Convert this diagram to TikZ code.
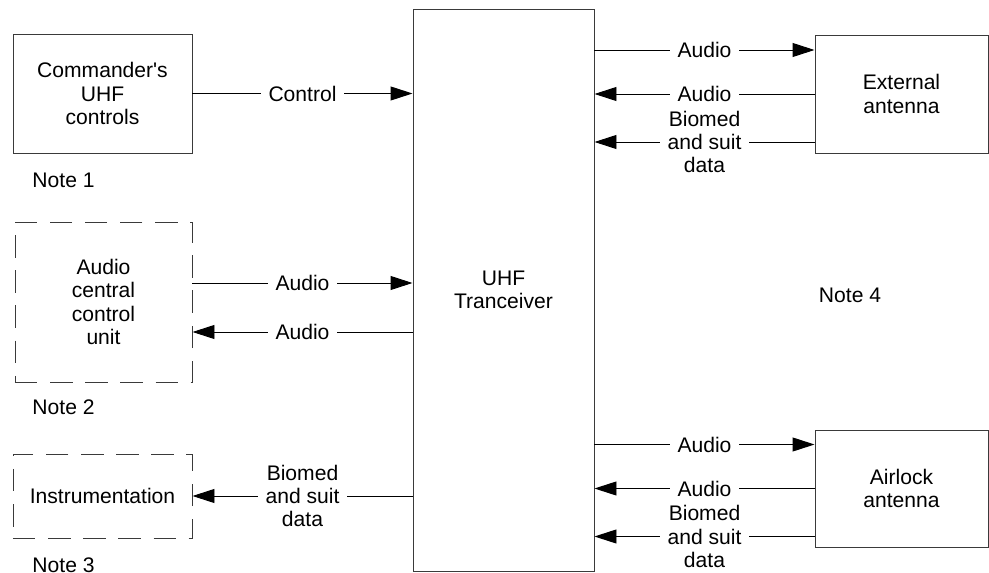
\documentclass[tikz,border=0pt]{standalone}
\usepackage{fontspec}
\setmainfont{Liberation Sans}
\usetikzlibrary{arrows.meta}
\definecolor{edge}{HTML}{3A3A3A}
\definecolor{wire}{HTML}{000000}

\begin{document}
\begin{tikzpicture}[
  font=\fontsize{15}{16.5}\selectfont,>={Triangle[length=5.5mm,width=3.5mm]},
  line width=0.7pt,
  unit/.style={draw=edge, inner sep=0pt, align=center},
  optunit/.style={unit, dash pattern=on 16pt off 9pt},
  lbl/.style={fill=white, align=center, inner xsep=2mm, inner ysep=1pt},
  note/.style={anchor=west, inner sep=0pt},
]
\useasboundingbox (0,0) rectangle (24.725,-14.325);
% left units
\node[unit, minimum width=4.475cm, minimum height=2.975cm] (cmd) at (2.5625,-2.3375) {Commander\textquotesingle s\\UHF\\controls};
\node[optunit, minimum width=4.425cm, minimum height=4cm] (acu) at (2.5875,-7.55) {Audio\\central\\control\\unit};
\node[optunit, minimum width=4.475cm, minimum height=2.1cm] (inst) at (2.5625,-12.4) {Instrumentation};
\node[note] (n1) at (0.8,-4.5) {Note 1};
\node[note] (n2) at (0.8,-10.175) {Note 2};
\node[note] (n3) at (0.8,-14.12) {Note 3};
% tranceiver
\node[unit, minimum width=4.525cm, minimum height=14.05cm] (uhf) at (12.5875,-7.25) {UHF\\Tranceiver};
% antennas
\node[unit, minimum width=4.325cm, minimum height=2.95cm] (ext) at (22.5375,-2.35) {External\\antenna};
\node[unit, minimum width=4.325cm, minimum height=2.925cm] (air) at (22.5375,-12.2125) {Airlock\\antenna};
\node (n4) at (21.25,-7.375) {Note 4};
% flows left
\draw[->, draw=wire] (cmd.east) -- node[lbl]{Control} (cmd.east -| uhf.west);
\draw[->, draw=wire] ([yshift=4.75mm]acu.east) -- node[lbl]{Audio} ([yshift=4.75mm]acu.east -| uhf.west);
\draw[->, draw=wire] ([yshift=-7.5mm]acu.east -| uhf.west) -- node[lbl]{Audio} ([yshift=-7.5mm]acu.east);
\draw[->, draw=wire] (inst.east -| uhf.west) -- node[lbl]{Biomed\\and suit\\data} (inst.east);
% flows right
\draw[->, draw=wire] ([yshift=11mm]ext.west -| uhf.east) -- node[lbl]{Audio} ([yshift=11mm]ext.west);
\draw[->, draw=wire] (ext.west) -- node[lbl]{Audio} (ext.west -| uhf.east);
\draw[->, draw=wire] ([yshift=-12mm]ext.west) -- node[lbl]{Biomed\\and suit\\data} ([yshift=-12mm]ext.west -| uhf.east);
\draw[->, draw=wire] ([yshift=11mm]air.west -| uhf.east) -- node[lbl]{Audio} ([yshift=11mm]air.west);
\draw[->, draw=wire] (air.west) -- node[lbl]{Audio} (air.west -| uhf.east);
\draw[->, draw=wire] ([yshift=-12mm]air.west) -- node[lbl]{Biomed\\and suit\\data} ([yshift=-12mm]air.west -| uhf.east);
\end{tikzpicture}
\end{document}
